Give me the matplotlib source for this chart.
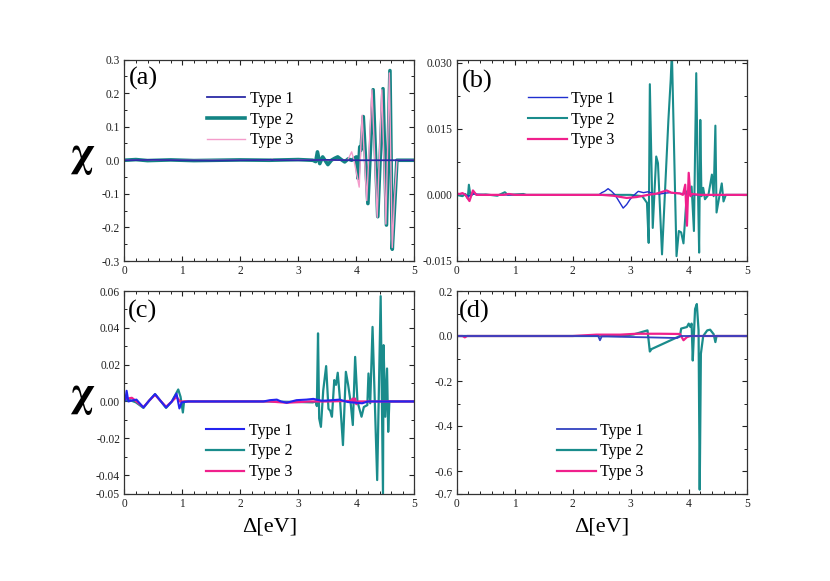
import matplotlib
matplotlib.use("Agg")
import matplotlib.pyplot as plt
from matplotlib.ticker import MultipleLocator, FixedLocator

plt.rcParams['font.family'] = ['Liberation Serif', 'DejaVu Serif']
plt.rcParams['axes.unicode_minus'] = False
plt.rcParams['mathtext.fontset'] = 'stix'

# ---------------- data ----------------
labels = ["Type 1", "Type 2", "Type 3"]

# panel (a)
a_t1_x = [0, 0.5, 1.0, 1.5, 2.0, 2.5, 3.0, 3.5, 4.0, 4.5, 5.0]
a_t1_y = [0, 0.001, 0, -0.001, 0, 0.001, 0, 0.001, 0, 0, 0]
a_t2_x = [0, 0.2, 0.4, 0.8, 1.2, 1.6, 2.0, 2.5, 3.0, 3.25, 3.30, 3.33, 3.37, 3.42, 3.46,
          3.51, 3.57, 3.63, 3.68, 3.74, 3.80, 3.86, 3.92, 3.97, 4.00, 4.03, 4.06, 4.08,
          4.12, 4.20, 4.29, 4.37, 4.46, 4.52, 4.58, 4.62, 4.67, 4.70, 4.8, 5.0]
a_t2_y = [0, 0.002, -0.001, 0.001, -0.001, 0.0, 0.001, 0.0, 0.002, 0.0, -0.004, 0.025,
          -0.01, 0.01, 0.0, -0.013, 0.0, 0.006, 0.01, 0.002, -0.005, 0.004, 0.0, 0.006,
          0.01, -0.054, 0.04, 0.03, 0.13, -0.129, 0.21, -0.168, 0.213, -0.193, 0.267,
          -0.265, -0.104, 0.0, 0.0, 0.0]
a_t3_x = [0, 1.0, 2.0, 2.5, 2.55, 2.6, 3.0, 3.5, 3.85, 3.92, 3.96, 4.05, 4.10, 4.18,
          4.27, 4.36, 4.44, 4.51, 4.57, 4.62, 4.66, 4.70, 5.0]
a_t3_y = [0, 0, 0, 0, 0.003, 0, 0.001, 0.0, 0.0, 0.025, 0.0, -0.08, 0.134, -0.12, 0.21,
          -0.17, 0.21, -0.19, 0.26, -0.26, -0.11, 0.0, 0.0]

# panel (b)
b_t1_x = [0, 0.1, 0.2, 0.3, 0.5, 1.0, 2.0, 2.45, 2.50, 2.55, 2.61, 2.67, 2.73, 2.80,
          2.87, 2.93, 2.99, 3.07, 3.13, 3.22, 3.30, 3.39, 3.50, 3.60, 3.68, 3.80, 3.97,
          4.05, 5.0]
b_t1_y = [0, 0.0003, -0.0003, 0.0002, 0, 0, 0, 0, 0.0005, 0.0008, 0.0014, 0.0008, 0.0,
          -0.0015, -0.003, -0.0022, -0.001, 0.0001, 0.0008, 0.0005, 0.0007, 0.0003,
          0.0002, 0.0004, 0.0005, 0.0004, 0.0002, 0, 0]
b_t2_x = [0, 0.1, 0.15, 0.19, 0.21, 0.24, 0.28, 0.35, 0.5, 0.7, 0.83, 0.88, 1.0, 1.15,
          1.2, 2.5, 3.0, 3.20, 3.28, 3.31, 3.33, 3.38, 3.44, 3.47, 3.54, 3.65, 3.69, 3.71,
          3.79, 3.83, 3.87, 3.91, 3.97, 4.01, 4.05, 4.09, 4.13, 4.16, 4.18, 4.20, 4.22,
          4.25, 4.28, 4.34, 4.40, 4.43, 4.46, 4.48, 4.52, 4.57, 4.60, 4.64, 5.0]
b_t2_y = [0, -0.0003, 0.0002, -0.0008, 0.0023, -0.0004, 0.0005, 0.0, 0.0001, -0.0002,
          0.0006, 0.0, 0.0001, 0.0002, 0, 0, 0.0, -0.0003, -0.0018, -0.0109, 0.0251,
          -0.0075, 0.0087, 0.0072, -0.0135, 0.017, 0.0262, 0.0325, -0.0139, -0.0082,
          -0.0085, -0.011, 0.0008, 0.0004, 0.0019, -0.0082, 0.0276, 0.0012, -0.0131,
          0.017, -0.0003, 0.0016, -0.001, 0.0, 0.0046, -0.0003, 0.0157, -0.004, -0.001,
          0.0026, -0.0015, 0.0, 0]
b_t3_x = [0, 0.05, 0.1, 0.15, 0.22, 0.28, 0.34, 0.5, 0.8, 0.9, 1.0, 2.5, 2.7, 2.93, 3.1,
          3.3, 3.45, 3.62, 3.7, 3.85, 3.90, 3.94, 3.97, 4.00, 4.03, 4.06, 4.2, 5.0]
b_t3_y = [0.0003, 0.0002, 0.0004, 0.0, -0.0014, 0.001, 0.0, 0.0, 0.0, 0.0002, 0.0, 0.0,
          -0.0002, -0.0007, -0.0005, 0.0, 0.0003, 0.001, 0.0005, 0.0003, 0.0, 0.0023,
          -0.007, 0.005, -0.0003, 0.0002, 0, 0]

# panel (c)
c_t1_x = [0, 0.02, 0.04, 0.07, 0.13, 0.21, 0.33, 0.43, 0.53, 0.62, 0.72, 0.82, 0.90,
          0.95, 0.99, 1.1, 2.4, 2.51, 2.63, 2.70, 2.80, 2.97, 3.14, 3.26, 3.40, 3.50,
          3.71, 3.85, 4.0, 4.10, 4.2, 5.0]
c_t1_y = [0.0, 0.001, 0.0058, 0.0, 0.0005, 0.001, -0.0033, 0.0005, 0.004, 0.0005,
          -0.0033, 0.0, 0.0043, -0.0038, -0.0005, 0.0, 0.0, 0.0007, 0.001, 0.0, -0.0007,
          0.0007, 0.001, 0.0014, 0.0004, 0.0005, 0.001, -0.0003, -0.0007, -0.001, 0, 0]
c_t2_x = [0, 0.1, 0.2, 0.33, 0.43, 0.53, 0.62, 0.72, 0.82, 0.93, 0.97, 1.01, 1.03, 1.2,
          2.5, 3.0, 3.25, 3.30, 3.32, 3.34, 3.36, 3.39, 3.43, 3.48, 3.52, 3.55, 3.58,
          3.62, 3.65, 3.68, 3.72, 3.77, 3.82, 3.86, 3.90, 3.94, 3.98, 4.02, 4.09, 4.13,
          4.19, 4.21, 4.24, 4.28, 4.36, 4.42, 4.46, 4.47, 4.50, 4.53, 4.55, 4.57, 5.0]
c_t2_y = [0.0005, 0.0007, -0.0005, -0.0035, 0.0005, 0.004, 0.0005, -0.0035, 0.0, 0.0065,
          0.0025, -0.006, 0.0, 0.0, 0.0, -0.0003, -0.0005, 0.0, -0.0025, 0.037, -0.0092,
          -0.0138, 0.006, 0.0192, -0.004, -0.005, -0.0083, 0.0116, 0.009, 0.0156, 0.0005,
          -0.0237, 0.0161, 0.0089, 0.0, -0.0128, 0.0242, 0.0, -0.0083, -0.003, -0.002,
          0.0152, -0.001, 0.0405, -0.0427, 0.0572, -0.05, 0.0306, -0.0083, 0.0179,
          -0.0165, 0.0, 0.0]
c_t3_x = [0, 0.05, 0.13, 0.21, 0.33, 0.43, 0.53, 0.62, 0.72, 0.82, 0.90, 0.96, 1.0, 2.5,
          2.8, 3.2, 3.5, 3.9, 3.94, 3.95, 3.98, 4.0, 4.03, 4.1, 5.0]
c_t3_y = [0.001, 0.0015, 0.002, 0.0, -0.0031, 0.0005, 0.0036, 0.0005, -0.0029, 0.0,
          0.0025, 0.0, 0.0, 0.0, -0.0007, 0.0, 0.0, 0.0003, 0.0016, -0.0005, 0.0016,
          -0.0015, 0.0, 0.0, 0.0]

# panel (d)
d_t1_x = [0, 1.0, 2.0, 2.44, 2.47, 2.50, 2.6, 2.9, 3.3, 3.8, 3.87, 4.0, 5.0]
d_t1_y = [0, 0, 0, 0, -0.019, -0.002, -0.002, -0.004, -0.006, -0.009, 0.0, 0.0, 0.0]
d_t2_x = [0, 1.0, 2.0, 2.5, 2.82, 3.05, 3.25, 3.29, 3.33, 3.36, 3.85, 3.87, 3.97, 4.00,
          4.03, 4.05, 4.07, 4.09, 4.11, 4.14, 4.17, 4.19, 4.21, 4.25, 4.32, 4.37, 4.43,
          4.46, 4.48, 5.0]
d_t2_y = [0, 0, 0, 0, 0.0, 0.007, 0.022, 0.025, -0.069, -0.058, 0.0, 0.033, 0.04, 0.055,
          0.04, 0.055, -0.109, 0.01, 0.12, 0.142, 0.025, -0.683, -0.079, 0.0, 0.025,
          0.028, 0.008, -0.027, 0.0, 0.0]
d_t3_x = [0, 0.10, 0.14, 0.18, 1.0, 2.0, 2.41, 2.82, 3.1, 3.5, 3.85, 3.91, 3.97, 4.03, 5.0]
d_t3_y = [0, 0.0, -0.006, 0.0, 0.0, 0.0, 0.006, 0.006, 0.01, 0.01, 0.009, -0.019, -0.005,
          0.0, 0.0]

# ---------------- figure ----------------
fig = plt.figure(figsize=(8.3, 5.81), dpi=100)
W, H = 830.0, 581.0


def add_ax(l, t, r, b):
    return fig.add_axes([l / W, 1 - b / H, (r - l) / W, (b - t) / H])


axA = add_ax(124.3, 59.5, 414.3, 261.0)
axB = add_ax(456.7, 59.5, 746.7, 261.0)
axC = add_ax(124.3, 291.0, 414.3, 493.5)
axD = add_ax(456.7, 291.0, 746.7, 493.5)

panels = [
    dict(ax=axA, tag="(a)",
         series=[(a_t1_x, a_t1_y), (a_t2_x, a_t2_y), (a_t3_x, a_t3_y)],
         colors=["#2b2ba6", "#138484", "#f49ccb"], lws=[1.3, 2.6, 1.0], order=[1, 2, 0],
         ylim=(-0.3, 0.3), yticks=[-0.3, -0.2, -0.1, 0.0, 0.1, 0.2, 0.3], fmt="{:.1f}",
         yminor=0.05, leg=(0.284, 0.845), tagpos=(0.016, 0.905)),
    dict(ax=axB, tag="(b)",
         series=[(b_t1_x, b_t1_y), (b_t2_x, b_t2_y), (b_t3_x, b_t3_y)],
         colors=["#1f2fd0", "#1a8c8c", "#f0208c"], lws=[1.0, 1.5, 1.6], order=[1, 0, 2],
         ylim=(-0.015, 0.0307), yticks=[-0.015, 0.0, 0.015, 0.030], fmt="{:.3f}",
         yminor=0.0075, leg=(0.247, 0.845), tagpos=(0.017, 0.893)),
    dict(ax=axC, tag="(c)",
         series=[(c_t1_x, c_t1_y), (c_t2_x, c_t2_y), (c_t3_x, c_t3_y)],
         colors=["#2424f0", "#1a8c8c", "#f0208c"], lws=[1.5, 1.6, 1.6], order=[1, 2, 0],
         ylim=(-0.05, 0.06), yticks=[-0.05, -0.04, -0.02, 0.0, 0.02, 0.04, 0.06],
         fmt="{:.2f}", yminor=0.01, leg=(0.281, 0.350), tagpos=(0.014, 0.898)),
    dict(ax=axD, tag="(d)",
         series=[(d_t1_x, d_t1_y), (d_t2_x, d_t2_y), (d_t3_x, d_t3_y)],
         colors=["#3242c0", "#1a8c8c", "#f0208c"], lws=[1.3, 1.6, 1.6], order=[1, 2, 0],
         ylim=(-0.7, 0.2), yticks=[-0.7, -0.6, -0.4, -0.2, 0.0, 0.2], fmt="{:.1f}",
         yminor=0.1, leg=(0.347, 0.350), tagpos=(0.008, 0.898)),
]

for p in panels:
    ax = p["ax"]
    handles = [None, None, None]
    for i in p["order"]:
        x, y = p["series"][i]
        ln, = ax.plot(x, y, color=p["colors"][i], lw=p["lws"][i], label=labels[i],
                      solid_joinstyle="round")
        handles[i] = ln
    ax.set_xlim(0, 5)
    ax.set_ylim(*p["ylim"])
    ax.set_xticks([0, 1, 2, 3, 4, 5])
    ax.set_xticklabels(["0", "1", "2", "3", "4", "5"])
    ax.xaxis.set_minor_locator(MultipleLocator(0.2))
    ax.yaxis.set_major_locator(FixedLocator(p["yticks"]))
    ax.set_yticklabels([p["fmt"].format(v) for v in p["yticks"]])
    ax.yaxis.set_minor_locator(MultipleLocator(p["yminor"]))
    ax.tick_params(which="both", direction="in", top=True, right=True,
                   labelsize=8.3, colors="#222222", pad=3)
    ax.tick_params(which="major", length=3.5, width=0.8)
    ax.tick_params(which="minor", length=2, width=0.7)
    for s in ax.spines.values():
        s.set_linewidth(0.9)
        s.set_color("#333333")
    ax.text(p["tagpos"][0], p["tagpos"][1], p["tag"], transform=ax.transAxes,
            fontsize=19, va="center", ha="left")
    ax.legend(handles=handles, labels=labels, loc="upper left",
              bbox_to_anchor=p["leg"], frameon=False, fontsize=11.5,
              handlelength=2.4, handletextpad=0.3, labelspacing=0.3,
              borderpad=0, borderaxespad=0)

# y labels (chi) and x labels (Delta)
fig.text(82 / W, 1 - 158 / H, r"$\mathbf{\chi}$", fontsize=30, ha="center", va="center")
fig.text(82 / W, 1 - 398 / H, r"$\mathbf{\chi}$", fontsize=30, ha="center", va="center")
fig.text(269.3 / W, 1 - 527 / H, "Δ[eV]", fontsize=16, ha="center", va="center")
fig.text(601.7 / W, 1 - 527 / H, "Δ[eV]", fontsize=16, ha="center", va="center")

fig.savefig("out.png", dpi=100)
